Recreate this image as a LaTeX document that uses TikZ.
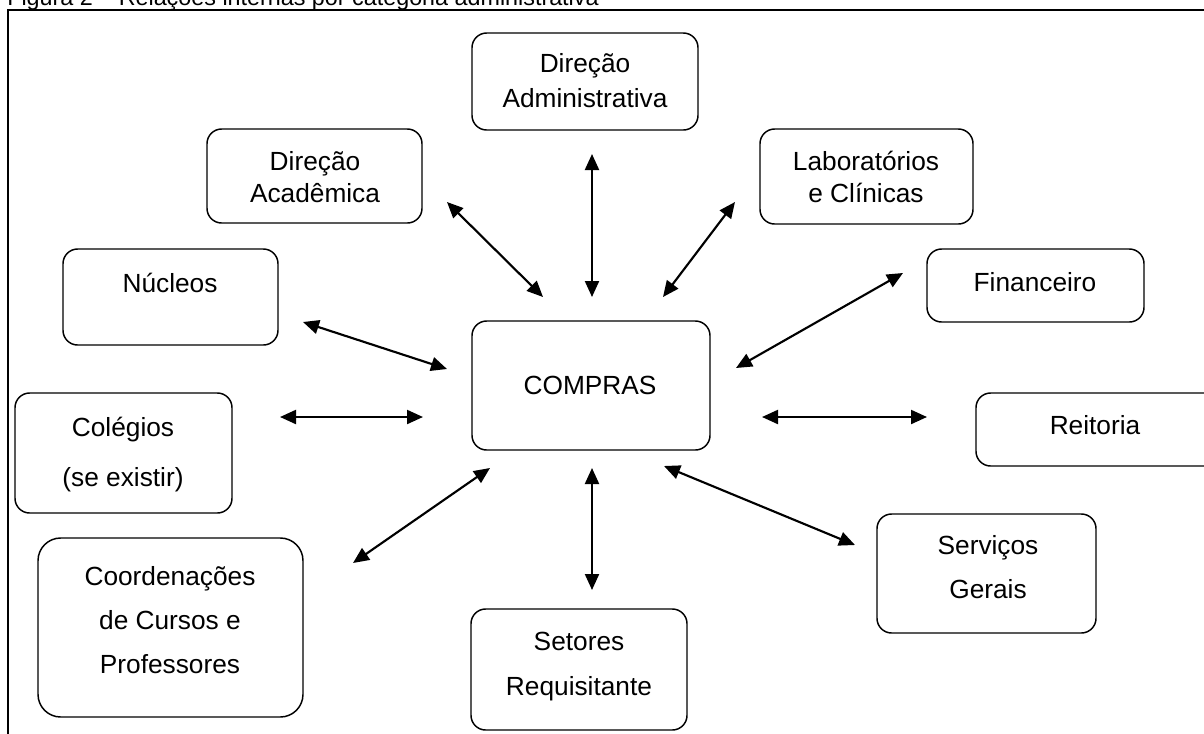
\documentclass[tikz,border=0pt]{standalone}
\usepackage{fontspec}
\setmainfont{Liberation Sans}
\usetikzlibrary{arrows.meta}
\begin{document}
\begin{tikzpicture}[x=0.75pt,y=-0.75pt,
  box/.style={draw, line width=1.1pt, rounded corners=11pt, inner sep=0pt},
  bigbox/.style={box, rounded corners=17pt},
  lbl/.style={anchor=base, inner sep=0pt, font=\fontsize{19.7pt}{23pt}\selectfont},
  link/.style={line width=1.6pt, {Triangle[length=12pt,width=10.5pt]}-{Triangle[length=12pt,width=10.5pt]}},
  frame/.style={line width=1.5pt}]
\useasboundingbox (0,0) rectangle (1204,733);
\clip (0,0) rectangle (1204,733);
% caption (cut at the top)
\node[anchor=base west, inner sep=0pt, font=\fontsize{17.5pt}{20pt}\selectfont] (cap) at (7,5) {Figura 2 – Relações internas por categoria administrativa};
% frame
\coordinate (fbl) at (8,740);
\coordinate (ftl) at (8,10);
\coordinate (ftr) at (1210,10);
\draw[frame] (fbl) -- (ftl) -- (ftr);
% boxes
\node[box, minimum width=169.5pt, minimum height=72.75pt] (dadm) at (585,81.5) {};
\node[box, minimum width=161.25pt, minimum height=70.5pt] (dacad) at (314.5,176) {};
\node[box, minimum width=159.75pt, minimum height=71.25pt] (labs) at (866.5,176.5) {};
\node[box, minimum width=161.25pt, minimum height=72pt] (nuc) at (170.5,297) {};
\node[box, minimum width=162.75pt, minimum height=54.75pt] (fin) at (1035.5,285.5) {};
\node[box, minimum width=178.5pt, minimum height=96.75pt] (comp) at (591,385.5) {};
\node[box, minimum width=162.75pt, minimum height=90pt] (col) at (123.5,453) {};
\node[box, minimum width=190.5pt, minimum height=54.75pt] (reit) at (1103,429.5) {};
\node[box, minimum width=164.25pt, minimum height=89.25pt] (serv) at (986.5,573.5) {};
\node[bigbox, minimum width=198.75pt, minimum height=134.25pt] (coord) at (170.5,627.5) {};
\node[box, minimum width=162pt, minimum height=90.75pt] (set) at (579,669.5) {};
% texts
\node[lbl] (dadm1) at (585,72) {Direção};
\node[lbl] (dadm2) at (585,107) {Administrativa};
\node[lbl] (dacad1) at (315,170) {Direção};
\node[lbl] (dacad2) at (315,202) {Acadêmica};
\node[lbl] (labs1) at (866,170) {Laboratórios};
\node[lbl] (labs2) at (866,202) {e Clínicas};
\node[lbl] (nuc1) at (170,292) {Núcleos};
\node[lbl] (fin1) at (1035,291) {Financeiro};
\node[lbl] (comp1) at (590,394) {COMPRAS};
\node[lbl] (col1) at (123,436) {Colégios};
\node[lbl] (col2) at (123,486) {(se existir)};
\node[lbl] (reit1) at (1095,434) {Reitoria};
\node[lbl] (serv1) at (988,554) {Serviços};
\node[lbl] (serv2) at (988,598) {Gerais};
\node[lbl] (coord1) at (170,585) {Coordenações};
\node[lbl] (coord2) at (170,629) {de Cursos e};
\node[lbl] (coord3) at (170,673) {Professores};
\node[lbl] (set1) at (579,650) {Setores};
\node[lbl] (set2) at (579,695) {Requisitante};
% arrow end points
\coordinate (a1s) at (592,154); \coordinate (a1e) at (592,297);
\coordinate (a2s) at (447,202); \coordinate (a2e) at (543,297);
\coordinate (a3s) at (735,202); \coordinate (a3e) at (663,297);
\coordinate (a4s) at (303,322); \coordinate (a4e) at (447,369);
\coordinate (a5s) at (903,273); \coordinate (a5e) at (736,368);
\coordinate (a6s) at (280,417); \coordinate (a6e) at (423,417);
\coordinate (a7s) at (762,417); \coordinate (a7e) at (927,417);
\coordinate (a8s) at (490,468); \coordinate (a8e) at (353,563);
\coordinate (a9s) at (592,468); \coordinate (a9e) at (592,590);
\coordinate (a10s) at (664,466); \coordinate (a10e) at (855,545);
\draw[link] (a1s) -- (a1e);
\draw[link] (a2s) -- (a2e);
\draw[link] (a3s) -- (a3e);
\draw[link] (a4s) -- (a4e);
\draw[link] (a5s) -- (a5e);
\draw[link] (a6s) -- (a6e);
\draw[link] (a7s) -- (a7e);
\draw[link] (a8s) -- (a8e);
\draw[link] (a9s) -- (a9e);
\draw[link] (a10s) -- (a10e);
\end{tikzpicture}
\end{document}
